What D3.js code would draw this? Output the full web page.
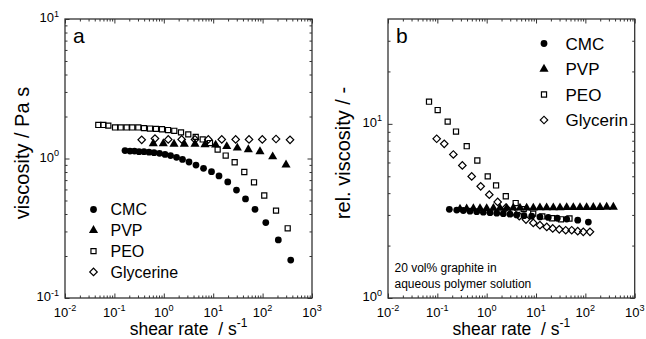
<!DOCTYPE html>
<html>
<head>
<meta charset="utf-8">
<script src="https://cdn.jsdelivr.net/npm/d3@7"></script>
<style>
  body { margin: 0; background: #fff; }
  text { font-family: "Liberation Sans", Arial, sans-serif; fill: #000; }
</style>
</head>
<body>
<svg id="chart"></svg>
<script>
// Размеры картинки
const width = 646;
const height = 339;

// --- panel a: viscosity of the polymer solutions ---
const rateA_CMC = [0.164, 0.207, 0.255, 0.315, 0.397, 0.502, 0.634, 0.818, 1.06, 1.37, 1.81, 2.39, 3.24, 4.48, 6.37, 9.24, 13.1, 19.7, 29.6, 45.1, 70.2, 116, 208, 371];
const viscA_CMC = [1.14, 1.13, 1.13, 1.12, 1.12, 1.11, 1.10, 1.09, 1.07, 1.05, 1.02, 0.985, 0.944, 0.898, 0.851, 0.804, 0.750, 0.679, 0.594, 0.513, 0.432, 0.347, 0.261, 0.187];

const rateA_PVP = [0.612, 0.977, 1.61, 2.60, 4.28, 6.82, 11.2, 18.8, 30.8, 51.4, 88.5, 160, 298];
const viscA_PVP = [1.28, 1.28, 1.27, 1.27, 1.27, 1.26, 1.25, 1.22, 1.19, 1.16, 1.12, 1.03, 0.90];

const rateA_PEO = [0.0472, 0.0596, 0.0753, 0.103, 0.134, 0.177, 0.230, 0.305, 0.397, 0.526, 0.695, 0.92, 1.22, 1.63, 2.23, 3.13, 4.43, 6.13, 8.61, 12.3, 17.9, 27.2, 42.6, 67, 108, 187, 322];
const viscA_PEO = [1.74, 1.74, 1.72, 1.67, 1.67, 1.67, 1.67, 1.67, 1.65, 1.64, 1.63, 1.62, 1.60, 1.58, 1.54, 1.49, 1.43, 1.37, 1.29, 1.16, 1.05, 0.94, 0.80, 0.675, 0.543, 0.423, 0.316];

const rateA_Gly = [0.357, 0.663, 1.23, 2.30, 4.28, 7.96, 14.9, 28.5, 53.1, 98.6, 187, 359];
const viscA_Gly = [1.36, 1.39, 1.37, 1.37, 1.37, 1.37, 1.37, 1.37, 1.37, 1.37, 1.38, 1.36];

// --- panel b: relative viscosity with 20 vol% graphite ---
const rateB_CMC = [0.175, 0.247, 0.336, 0.459, 0.628, 0.855, 1.17, 1.60, 2.17, 2.97, 4.06, 5.70, 8.17, 12.0, 17.7, 27.0, 41.9, 70.0, 115];
const relB_CMC = [3.23, 3.20, 3.18, 3.15, 3.13, 3.11, 3.09, 3.07, 3.05, 3.03, 3.00, 2.97, 2.95, 2.92, 2.90, 2.87, 2.84, 2.80, 2.73];

const rateB_PVP = [0.288, 0.393, 0.537, 0.733, 1.00, 1.37, 1.86, 2.54, 3.47, 4.73, 6.46, 8.82, 12.0, 16.4, 22.4, 30.6, 41.8, 57.0, 77.8, 106, 145, 198, 270, 369];
const relB_PVP = [3.24, 3.25, 3.26, 3.27, 3.27, 3.28, 3.28, 3.28, 3.29, 3.29, 3.29, 3.29, 3.30, 3.30, 3.30, 3.30, 3.31, 3.31, 3.31, 3.31, 3.32, 3.32, 3.33, 3.33];

const rateB_PEO = [0.0678, 0.1016, 0.162, 0.239, 0.394, 0.646, 1.05, 1.55, 2.44, 3.87, 5.63, 8.77, 13.4, 21.1, 32.1, 47.7];
const relB_PEO = [13.4, 12.0, 10.3, 9.03, 7.44, 6.16, 4.99, 4.43, 3.84, 3.51, 3.24, 3.05, 2.94, 2.87, 2.83, 2.86];

const rateB_Gly = [0.097, 0.138, 0.211, 0.321, 0.497, 0.756, 1.13, 1.67, 2.46, 3.37, 4.58, 6.26, 8.81, 12.0, 16.5, 21.8, 29.6, 40.0, 52.9, 70.0, 90.8, 124];
const relB_Gly = [8.21, 7.68, 6.67, 5.77, 4.99, 4.38, 3.92, 3.56, 3.30, 3.12, 2.95, 2.82, 2.70, 2.62, 2.56, 2.51, 2.48, 2.45, 2.45, 2.42, 2.40, 2.40];

// подписи
const legendA = ["CMC", "PVP", "PEO", "Glycerine"];
const legendB = ["CMC", "PVP", "PEO", "Glycerin"];
const xMajor = [1e-2, 1e-1, 1, 10, 100, 1000];
const xExp = ["-2", "-1", "0", "1", "2", "3"];

const plotTop = 19, plotBottom = 298;

const svg = d3.select("#chart").attr("width", width).attr("height", height);

// маркеры серий
const sym = {
    circle: { type: d3.symbolCircle, size: 36, fill: "#000", stroke: "none", rot: 0 },
    triangle: { type: d3.symbolTriangle, size: 36, fill: "#000", stroke: "none", rot: 0 },
    square: { type: d3.symbolSquare, size: 26, fill: "none", stroke: "#000", rot: 0 },
    diamond: { type: d3.symbolSquare, size: 28, fill: "none", stroke: "#000", rot: 45 }
};
const kinds = ["circle", "triangle", "square", "diamond"];

function drawMark(sel, kind) {
    const s = sym[kind];
    sel.attr("d", d3.symbol().type(s.type).size(s.size)())
        .attr("fill", s.fill)
        .attr("stroke", s.stroke)
        .attr("stroke-width", 1.2);
}

function minors(domain) {
    const out = [];
    const lo = Math.floor(Math.log10(domain[0])), hi = Math.ceil(Math.log10(domain[1]));
    for (let d = lo; d < hi; d++) {
        for (let m = 2; m <= 9; m++) {
            const v = m * Math.pow(10, d);
            if (v > domain[0] && v < domain[1]) out.push(v);
        }
    }
    return out;
}

// число вида 10^n с верхним индексом
function powLabel(sel, exp, size) {
    sel.append("tspan").text("10");
    sel.append("tspan").attr("dy", -size * 0.42).attr("font-size", size * 0.7).text(exp);
}

function panel(o) {
    const x = d3.scaleLog().domain([1e-2, 1e3]).range([o.left, o.right]);
    const y = d3.scaleLog().domain(o.yDomain).range([plotBottom, plotTop]);
    const g = svg.append("g");

    const clean = a => a.select(".domain").remove();
    const tickStyle = a => a.selectAll("line").attr("stroke", "#333").attr("stroke-width", 1);

    // ticks, all pointing inward
    g.append("g").attr("transform", `translate(0,${plotBottom})`)
        .call(d3.axisBottom(x).tickValues(xMajor).tickSize(-4.5).tickFormat("")).call(clean).call(tickStyle);
    g.append("g").attr("transform", `translate(0,${plotBottom})`)
        .call(d3.axisBottom(x).tickValues(minors(x.domain())).tickSize(-2.5).tickFormat("")).call(clean).call(tickStyle);
    g.append("g").attr("transform", `translate(0,${plotTop})`)
        .call(d3.axisTop(x).tickValues(xMajor).tickSize(-4.5).tickFormat("")).call(clean).call(tickStyle);
    g.append("g").attr("transform", `translate(0,${plotTop})`)
        .call(d3.axisTop(x).tickValues(minors(x.domain())).tickSize(-2.5).tickFormat("")).call(clean).call(tickStyle);
    g.append("g").attr("transform", `translate(${o.left},0)`)
        .call(d3.axisLeft(y).tickValues(o.yMajor).tickSize(-4.5).tickFormat("")).call(clean).call(tickStyle);
    g.append("g").attr("transform", `translate(${o.left},0)`)
        .call(d3.axisLeft(y).tickValues(minors(y.domain())).tickSize(-2.5).tickFormat("")).call(clean).call(tickStyle);
    g.append("g").attr("transform", `translate(${o.right},0)`)
        .call(d3.axisRight(y).tickValues(o.yMajor).tickSize(-4.5).tickFormat("")).call(clean).call(tickStyle);
    g.append("g").attr("transform", `translate(${o.right},0)`)
        .call(d3.axisRight(y).tickValues(minors(y.domain())).tickSize(-2.5).tickFormat("")).call(clean).call(tickStyle);

    // рамка
    g.append("rect")
        .attr("x", o.left).attr("y", plotTop)
        .attr("width", o.right - o.left).attr("height", plotBottom - plotTop)
        .attr("fill", "none").attr("stroke", "#333").attr("stroke-width", 1.3);

    // tick labels
    xMajor.forEach((v, i) => {
        g.append("text").attr("x", x(v)).attr("y", plotBottom + 18.5)
            .attr("text-anchor", "middle").attr("font-size", 13)
            .call(powLabel, xExp[i], 13);
    });
    o.yMajor.forEach((v, i) => {
        g.append("text").attr("x", o.left - 6).attr("y", y(v) + 3)
            .attr("text-anchor", "end").attr("font-size", 13)
            .call(powLabel, o.yExp[i], 13);
    });

    // axis titles
    const xt = g.append("text")
        .attr("x", (o.left + o.right) / 2).attr("y", 335)
        .attr("text-anchor", "middle").attr("font-size", 17.5);
    xt.append("tspan").text("shear rate\u00a0 / s");
    xt.append("tspan").attr("dy", -8).attr("font-size", 12).text("-1");

    g.append("text")
        .attr("transform", `translate(${o.yLabelX},${o.yLabelY}) rotate(-90)`)
        .attr("text-anchor", "middle").attr("font-size", 20)
        .text(o.yTitle);

    g.append("text").attr("x", o.left + 8).attr("y", 43)
        .attr("font-size", 21).text(o.tag);

    // data
    o.series.forEach((s, k) => {
        g.append("g").selectAll("path")
            .data(d3.zip(s[0], s[1]))
            .join("path")
            .attr("transform", d => `translate(${x(d[0])},${y(d[1])}) rotate(${sym[kinds[k]].rot})`)
            .call(drawMark, kinds[k]);
    });

    // legend
    const lg = g.append("g").attr("transform", `translate(${o.legend.x},${o.legend.y})`);
    o.legend.names.forEach((name, k) => {
        lg.append("path")
            .attr("transform", `translate(0,${k * o.legend.step}) rotate(${sym[kinds[k]].rot})`)
            .call(drawMark, kinds[k]);
        lg.append("text").attr("x", o.legend.dx).attr("y", k * o.legend.step + o.legend.size * 0.36)
            .attr("font-size", o.legend.size).text(name);
    });

    return g;
}

panel({
    left: 65, right: 312,
    yDomain: [0.1, 10], yMajor: [0.1, 1, 10], yExp: ["-1", "0", "1"],
    yTitle: "viscosity / Pa s", yLabelX: 29, yLabelY: 153,
    tag: "a",
    series: [[rateA_CMC, viscA_CMC], [rateA_PVP, viscA_PVP], [rateA_PEO, viscA_PEO], [rateA_Gly, viscA_Gly]],
    legend: { x: 93.5, y: 209.5, step: 20.8, dx: 17, size: 16, names: legendA }
});

const gb = panel({
    left: 388, right: 634.7,
    yDomain: [1, 40], yMajor: [1, 10], yExp: ["0", "1"],
    yTitle: "rel. viscosity / -", yLabelX: 350, yLabelY: 153,
    tag: "b",
    series: [[rateB_CMC, relB_CMC], [rateB_PVP, relB_PVP], [rateB_PEO, relB_PEO], [rateB_Gly, relB_Gly]],
    legend: { x: 544, y: 43.5, step: 25.5, dx: 21.5, size: 17, names: legendB }
});

// пояснение к панели b
gb.append("text").attr("x", 394.5).attr("y", 271.5).attr("font-size", 12).text("20 vol% graphite in");
gb.append("text").attr("x", 394.5).attr("y", 288).attr("font-size", 12).text("aqueous polymer solution");
</script>
</body>
</html>
